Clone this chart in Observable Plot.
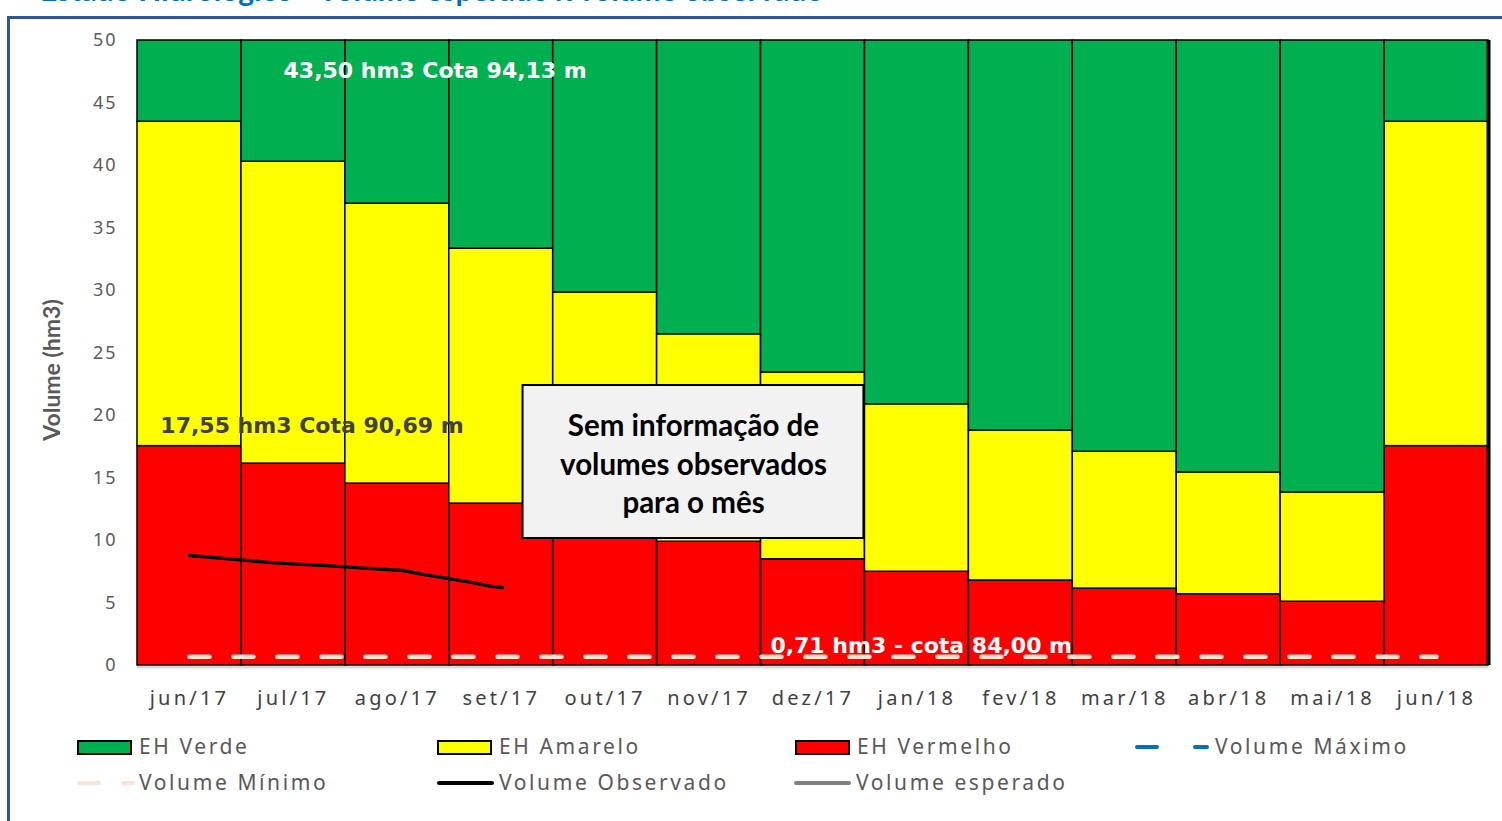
<!DOCTYPE html>
<html>
<head>
<meta charset="utf-8">
<script src="https://cdn.jsdelivr.net/npm/d3@7"></script>
<script src="https://cdn.jsdelivr.net/npm/@observablehq/plot@0.6"></script>
<style>
  html, body { margin: 0; padding: 0; background: #fff; overflow: hidden; }
  #wrap { position: relative; width: 1502px; height: 821px; }
  #title { position: absolute; left: 40px; top: -26px; font: bold 30px Lato, sans-serif; color: #0070c0; white-space: nowrap; line-height: 30px; }
  #frame { position: absolute; left: 7px; top: 16px; width: 1600px; height: 900px; border: 3px solid #2f5597; pointer-events: none; }
  #chart { position: absolute; left: 0; top: 0; }
  #chart svg { background: transparent; }
  #chart [aria-label="x-axis tick label"] text { letter-spacing: 3.2px; }
  #chart [aria-label="y-axis tick label"] text { letter-spacing: 2px; }
  .leg { position: absolute; font: 21px "Noto Sans", sans-serif; color: #595959; letter-spacing: 2.6px; white-space: nowrap; line-height: 24px; }
  .sw { position: absolute; box-sizing: border-box; border: 2px solid #000; width: 55px; height: 15px; }
  .ln { position: absolute; height: 4px; border-radius: 2px; }
</style>
</head>
<body>
<div id="wrap">
  <div id="title">Estado Hidrológico - Volume esperado x volume observado</div>
  <div id="chart"></div>
  <div id="legend"></div>
  <div id="frame"></div>
</div>
<script>
const months = ["jun/17","jul/17","ago/17","set/17","out/17","nov/17","dez/17","jan/18","fev/18","mar/18","abr/18","mai/18","jun/18"];
// top of the red band (EH Vermelho)
const vermelho = [17.55, 16.15, 14.55, 12.95, 11.4, 9.9, 8.5, 7.5, 6.8, 6.15, 5.7, 5.1, 17.55];
// top of the yellow band (EH Amarelo)
const amarelo = [43.5, 40.3, 36.95, 33.35, 29.85, 26.5, 23.45, 20.9, 18.8, 17.1, 15.45, 13.85, 43.5];
// top of the green band (EH Verde)
const verde = [50, 50, 50, 50, 50, 50, 50, 50, 50, 50, 50, 50, 50];
// observed volume (month position, value)
const obsPos = [0, 0.49, 0.81, 1.36, 1.68, 2.06, 2.22, 2.45, 2.70, 2.89, 3.01];
const obsVal = [8.8, 8.45, 8.21, 7.97, 7.79, 7.6, 7.33, 7.01, 6.67, 6.35, 6.24];
const volMinimo = 0.71;
const yTicks = [0, 5, 10, 15, 20, 25, 30, 35, 40, 45, 50];

const idx = months.map((m, i) => i);
const red = idx.map(i => ({i, y1: 0, y2: vermelho[i]}));
const yel = idx.map(i => ({i, y1: vermelho[i], y2: amarelo[i]}));
const grn = idx.map(i => ({i, y1: amarelo[i], y2: verde[i]}));
const obs = obsPos.map((p, k) => ({p, v: obsVal[k]}));
const minLine = [{p: 0, v: volMinimo}, {p: 12, v: volMinimo}];

const barOpts = {x1: d => d.i - 0.5, x2: d => d.i + 0.5, y1: "y1", y2: "y2", stroke: "#000", strokeWidth: 1.5};

const chart = Plot.plot({
  width: 1502,
  height: 730,
  marginLeft: 137,
  marginRight: 14,
  marginTop: 40,
  marginBottom: 65,
  style: {fontFamily: "'Noto Sans', sans-serif", background: "transparent", overflow: "visible"},
  x: {domain: [-0.5, 12.5]},
  y: {domain: [0, 50]},
  marks: [
    Plot.ruleY([50], {stroke: "#d9d9d9", strokeWidth: 1.5}),
    Plot.ruleY([0], {stroke: "#d9d9d9", strokeWidth: 3, dy: 1.5}),
    Plot.rectY(red, {...barOpts, fill: "#ff0000"}),
    Plot.rectY(yel, {...barOpts, fill: "#ffff00"}),
    Plot.rectY(grn, {...barOpts, fill: "#00b050"}),
    Plot.ruleX([12.5], {y1: 0, y2: 50, stroke: "#000", strokeWidth: 4}),
    Plot.line(minLine, {x: "p", y: "v", stroke: "#fbe5d6", strokeWidth: 4.5, strokeDasharray: "20,24", strokeLinecap: "round"}),
    Plot.line(obs, {x: "p", y: "v", stroke: "#000", strokeWidth: 3.5, curve: "linear", strokeLinecap: "round"}),
    Plot.rect([{x1: 3.21, x2: 6.49, y1: 10.16, y2: 22.4}], {x1: "x1", x2: "x2", y1: "y1", y2: "y2", fill: "#f2f2f2", stroke: "#000", strokeWidth: 2}),
    Plot.text(["Sem informação de\nvolumes observados\npara o mês"], {x: 4.85, y: 16.25, text: d => d, fontFamily: "Lato, sans-serif", fontWeight: "bold", fontSize: 29.5, lineHeight: 1.3, fill: "#000"}),
    Plot.text(["43,50 hm3 Cota 94,13 m"], {x: 0.905, y: 47.6, text: d => d, textAnchor: "start", fontFamily: "'DejaVu Sans', sans-serif", fontWeight: "bold", fontSize: 22, fill: "#fff"}),
    Plot.text(["17,55 hm3 Cota 90,69 m"], {x: -0.28, y: 19.2, text: d => d, textAnchor: "start", fontFamily: "'DejaVu Sans', sans-serif", fontWeight: "bold", fontSize: 22, fill: "#404040"}),
    Plot.text(["0,71 hm3 - cota 84,00 m"], {x: 5.59, y: 1.6, text: d => d, textAnchor: "start", fontFamily: "'DejaVu Sans', sans-serif", fontWeight: "bold", fontSize: 22, fill: "#fff"}),
    Plot.axisY({ticks: yTicks, tickSize: 0, tickPadding: 20, fontSize: 18, fill: "#595959", label: null}),
    Plot.axisX({ticks: idx, tickFormat: i => months[i], tickSize: 0, tickPadding: 25, fontSize: 20, fill: "#404040", label: null}),
    Plot.text(["Volume (hm3)"], {frameAnchor: "left", textAnchor: "middle", dx: -85, dy: 17, rotate: -90, text: d => d, fontFamily: "Lato, sans-serif", fontWeight: "bold", fontSize: 23, fill: "#595959"})
  ]
});
document.getElementById("chart").appendChild(chart);

// legend
const legend = document.getElementById("legend");
function addSwatch(x, y, color, label) {
  const s = document.createElement("div");
  s.className = "sw"; s.style.left = x + "px"; s.style.top = (y - 7) + "px"; s.style.background = color;
  legend.appendChild(s);
  addLabel(x + 62, y, label);
}
function addLabel(x, y, label) {
  const t = document.createElement("div");
  t.className = "leg"; t.style.left = x + "px"; t.style.top = (y - 13) + "px"; t.textContent = label;
  legend.appendChild(t);
}
function addLine(x, y, color, segs, label) {
  segs.forEach(([a, b]) => {
    const l = document.createElement("div");
    l.className = "ln"; l.style.left = (x + a) + "px"; l.style.width = (b - a) + "px"; l.style.top = (y - 2) + "px"; l.style.background = color;
    legend.appendChild(l);
  });
  addLabel(x + 62, y, label);
}
const legendItems = [
  {type: "sw", x: 77, y: 747, color: "#00b050", label: "EH Verde"},
  {type: "sw", x: 437, y: 747, color: "#ffff00", label: "EH Amarelo"},
  {type: "sw", x: 795, y: 747, color: "#ff0000", label: "EH Vermelho"},
  {type: "ln", x: 1153, y: 747, color: "#0070c0", segs: [[-18, 6], [40, 56]], label: "Volume Máximo"},
  {type: "ln", x: 77, y: 783, color: "#fbe5d6", segs: [[0, 24], [44, 58]], label: "Volume Mínimo"},
  {type: "ln", x: 437, y: 783, color: "#000000", segs: [[0, 57]], label: "Volume Observado"},
  {type: "ln", x: 794, y: 783, color: "#808080", segs: [[0, 57]], label: "Volume esperado"}
];
legendItems.forEach(d => d.type === "sw" ? addSwatch(d.x, d.y, d.color, d.label) : addLine(d.x, d.y, d.color, d.segs, d.label));
</script>
</body>
</html>
